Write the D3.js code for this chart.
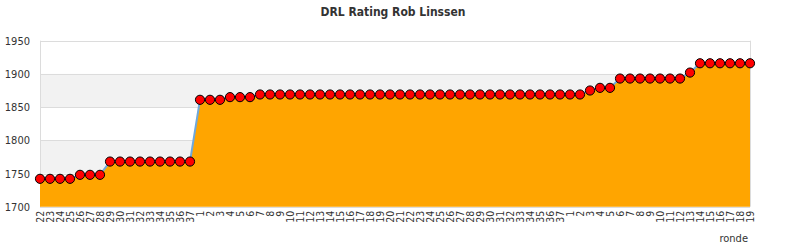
<!DOCTYPE html>
<html><head><meta charset="utf-8">
<script src="https://cdn.jsdelivr.net/npm/d3@7"></script>
<style>body{margin:0;background:#fff}svg{display:block}text{font-family:"DejaVu Sans Condensed","DejaVu Sans",sans-serif;fill:#333}</style>
</head><body><svg id="c" width="790" height="250"></svg>
<script>
const rounds = ["22","23","24","25","26","27","28","29","30","31","32","33","34","35","36","37",
"1","2","3","4","5","6","7","8","9","10","11","12","13","14","15","16","17","18","19","20","21","22","23","24","25","26","27","28","29","30","31","32","33","34","35","36","37",
"1","2","3","4","5","6","7","8","9","10","11","12","13","14","15","16","17","18","19"];
const ratings = [1742,1742,1742,1742,1748,1748,1748,1768,1768,1768,1768,1768,1768,1768,1768,1768,
1861,1861,1861,1865,1865,1865,1869,1869,1869,1869,1869,1869,1869,1869,1869,1869,1869,1869,1869,1869,1869,1869,1869,1869,1869,1869,1869,1869,1869,1869,1869,1869,1869,1869,1869,1869,1869,
1869,1869,1875,1879,1879,1893,1893,1893,1893,1893,1893,1893,1902,1916,1916,1916,1916,1916,1916];
const yTicks = [1700,1750,1800,1850,1900,1950];
const title = "DRL Rating Rob Linssen";
const xTitle = "ronde";

const svg = d3.select("#c");
const L = 40, R = 750, T = 40.7, B = 206.7;
const idx = d3.range(rounds.length);
const x = d3.scaleLinear().domain([0, rounds.length-1]).range([L, R]);
const y = d3.scaleLinear().domain([1700,1950]).range([B, T]);

// bands
for (let i = 0; i < yTicks.length-1; i++) {
  if (i % 2 === 1) {
    svg.append("rect").attr("x", L).attr("width", R-L)
      .attr("y", y(yTicks[i+1])).attr("height", y(yTicks[i]) - y(yTicks[i+1]))
      .attr("fill", "#f2f2f2");
  }
}
// gridlines
svg.append("g").selectAll("line").data(yTicks).join("line")
  .attr("x1", L).attr("x2", R).attr("y1", d=>Math.round(y(d))+0.5).attr("y2", d=>Math.round(y(d))+0.5)
  .attr("stroke", "#dcdcdc").attr("stroke-width", 1);
svg.append("line").attr("x1", L+0.5).attr("x2", L+0.5).attr("y1", T).attr("y2", B).attr("stroke","#dcdcdc");
svg.append("line").attr("x1", R+0.5).attr("x2", R+0.5).attr("y1", T).attr("y2", B).attr("stroke","#dcdcdc");

// area
svg.append("path").datum(idx)
  .attr("d", d3.area().x(i=>x(i)).y0(y(1700)).y1(i=>y(ratings[i])))
  .attr("fill", "#ffa500");
svg.append("path").datum(idx)
  .attr("d", d3.line().x(i=>x(i)).y(i=>y(ratings[i])))
  .attr("fill", "none").attr("stroke", "#6fa8dc").attr("stroke-width", 2);

// markers
svg.append("g").selectAll("circle").data(idx).join("circle")
  .attr("cx", i=>x(i)).attr("cy", i=>y(ratings[i])).attr("r", 4.6)
  .attr("fill", "#ff0000").attr("stroke", "#000").attr("stroke-width", 1);

// y axis labels
const yAxis = d3.axisLeft(y).tickValues(yTicks).tickSize(0).tickPadding(0).tickFormat(d3.format("d"));
const ya = svg.append("g").attr("transform", `translate(30,0)`).call(yAxis);
ya.select(".domain").remove();
ya.selectAll("text").style("font-size", "11px").attr("fill", "#333");

// x axis labels
const xAxis = d3.axisBottom(x).tickValues(idx).tickSize(0).tickFormat(i=>rounds[i]);
const xa = svg.append("g").attr("transform", `translate(0,${B+2})`).call(xAxis);
xa.select(".domain").remove();
xa.selectAll("text").style("font-size", "10.5px").attr("fill", "#333")
  .attr("text-anchor", "end").attr("dy", "0.35em").attr("x", -2).attr("y", 0)
  .attr("transform", "rotate(-90)");

svg.append("text").attr("x", 393).attr("y", 16).attr("text-anchor", "middle")
  .style("font-size", "12px").style("font-weight", "bold").text(title);
svg.append("text").attr("x", 748).attr("y", 242).attr("text-anchor", "end")
  .style("font-size", "11px").text(xTitle);
</script></body></html>
